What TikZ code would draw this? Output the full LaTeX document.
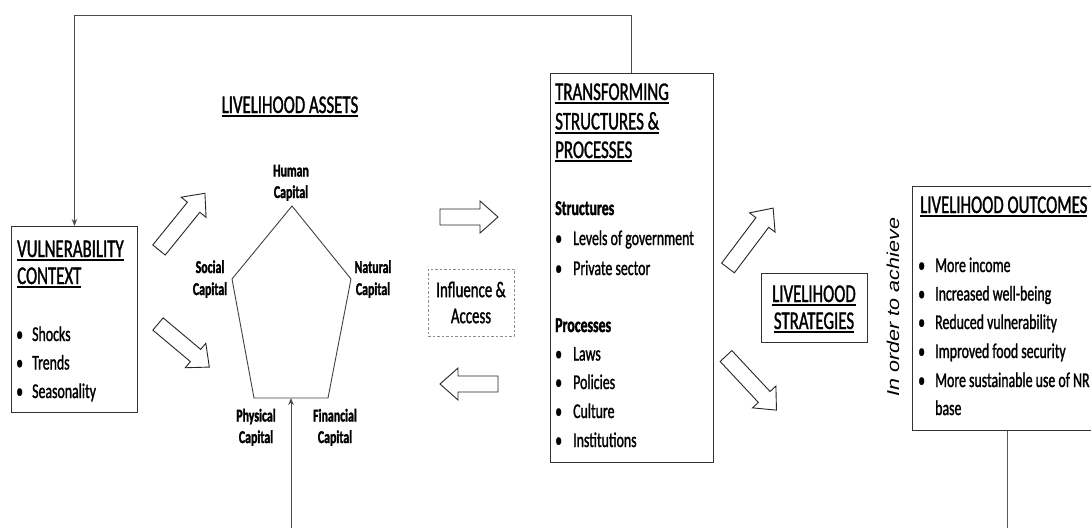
\documentclass[tikz,border=0pt]{standalone}
\usepackage{fontspec}
\setmainfont{Carlito}[FakeStretch=0.66, UprightFeatures={FakeBold=1.2}, BoldFeatures={FakeBold=1.6}]
\newfontfamily\vfont{Liberation Sans}
\usetikzlibrary{arrows.meta}
\newcommand\fbody{\fontsize{21}{29}\selectfont}
\newcommand\fhead{\fontsize{25.5}{29}\selectfont}
\newcommand\flab{\fontsize{18}{21.5}\selectfont\bfseries}
\newcommand\hul[1]{\setbox0=\hbox{#1}\rlap{\rule[-4pt]{\wd0}{1.8pt}}\box0}
\newcommand\itm[2][16pt]{\makebox[#1][l]{\textbullet}#2}
\newcommand\blockarrow[3]{\draw[barrow, shift={(#1)}, rotate=#2] (0,-8) -- (#3-18,-8) -- (#3-18,-16) -- (#3,0) -- (#3-18,16) -- (#3-18,8) -- (0,8) -- cycle;}
\begin{document}
\begin{tikzpicture}[x=1pt,y=-1pt,
  box/.style={draw=black!80, line width=0.9pt, rectangle, inner sep=0, anchor=north west},
  dbox/.style={draw=black!45, dash pattern=on 2.5pt off 2pt, line width=0.8pt, rectangle, inner sep=0, align=center, font=\fontsize{22.5}{26}\selectfont},
  txt/.style={anchor=base west, inner sep=0, font=\fbody},
  hd/.style={anchor=base west, inner sep=0, font=\fhead},
  hdc/.style={anchor=base, inner sep=0, font=\fhead},
  lab/.style={anchor=base, inner sep=0, font=\flab},
  conn/.style={draw=black!70, line width=1pt, -{Stealth[length=7pt,width=5.5pt]}},
  plain/.style={draw=black!65, line width=1pt},
  barrow/.style={draw=black!85, line width=0.9pt, fill=white, line join=miter},
  pent/.style={draw=black!75, line width=0.9pt}]
\path[use as bounding box] (0,0) rectangle (1091,528);
\clip (0,0) rectangle (1091,528);

% boxes
\node[box, minimum width=126, minimum height=186] (vc) at (11,226) {};
\node[box, minimum width=163, minimum height=389] (ts) at (550,73) {};
\node[box, minimum width=106, minimum height=69] (ls) at (761,273) {};
\node[box, minimum width=190, minimum height=244] (lo) at (912,186) {};
\node[dbox, minimum width=86, minimum height=67] (ia) at (471,302.5) {Influence \&\\Access};

% vulnerability context
\node[hd] (vc1) at (17,257) {\hul{VULNERABILITY}};
\node[hd] (vc2) at (17,284) {\hul{CONTEXT}};
\node[txt] (vc3) at (16,341) {\itm{Shocks}};
\node[txt] (vc4) at (16,369.5) {\itm{Trends}};
\node[txt] (vc5) at (16,398) {\itm{Seasonality}};

% livelihood assets
\node[hdc] (la) at (290,113) {\hul{LIVELIHOOD ASSETS}};
\coordinate (ptop) at (292,206);
\coordinate (pleft) at (232,279);
\coordinate (pright) at (351,279);
\coordinate (pbl) at (254,398);
\coordinate (pbr) at (328,398);
\coordinate (pb) at (291,398);
\draw[pent] (ptop) -- (pright) -- (pbr) -- (pbl) -- (pleft) -- cycle;
\node[lab] (hc1) at (291,176.5) {Human};
\node[lab] (hc2) at (291,198) {Capital};
\node[lab] (sc1) at (210,273) {Social};
\node[lab] (sc2) at (210,295) {Capital};
\node[lab] (nc1) at (373,273) {Natural};
\node[lab] (nc2) at (373,295) {Capital};
\node[lab] (pc1) at (256,421.5) {Physical};
\node[lab] (pc2) at (256,443) {Capital};
\node[lab] (fc1) at (335,421.5) {Financial};
\node[lab] (fc2) at (335,443) {Capital};

% transforming structures
\node[hd] (ts1) at (555,100) {\hul{TRANSFORMING}};
\node[hd] (ts2) at (555,129.5) {\hul{STRUCTURES \&}};
\node[hd] (ts3) at (555,158) {\hul{PROCESSES}};
\node[txt, font=\fbody\bfseries] (ts4) at (555,215) {Structures};
\node[txt] (ts5) at (555,245) {\itm[18pt]{Levels of government}};
\node[txt] (ts6) at (555,275) {\itm[18pt]{Private sector}};
\node[txt, font=\fbody\bfseries] (ts7) at (555,332) {Processes};
\node[txt] (ts8) at (555,360.5) {\itm[18pt]{Laws}};
\node[txt] (ts9) at (555,389) {\itm[18pt]{Policies}};
\node[txt] (ts10) at (555,418) {\itm[18pt]{Culture}};
\node[txt] (ts11) at (555,447) {\itm[18pt]{Institutions}};

% livelihood strategies
\node[hdc] (ls1) at (814,302) {\hul{LIVELIHOOD}};
\node[hdc] (ls2) at (814,329) {\hul{STRATEGIES}};

% in order to achieve
\node[rotate=90, inner sep=0] (io) at (893,307) {\scalebox{1}[0.8]{\vfont\itshape\fontsize{21.5}{24}\selectfont In order to achieve}};

% livelihood outcomes
\node[hd] (lo1) at (920,213) {\hul{LIVELIHOOD OUTCOMES}};
\node[txt] (lo2) at (918,272) {\itm[17pt]{More income}};
\node[txt] (lo3) at (918,300.5) {\itm[17pt]{Increased well-being}};
\node[txt] (lo4) at (918,329) {\itm[17pt]{Reduced vulnerability}};
\node[txt] (lo5) at (918,358) {\itm[17pt]{Improved food security}};
\node[txt] (lo6) at (918,387) {\itm[17pt]{More sustainable use of NR}};
\node[txt] (lo7) at (935,415) {base};

% block arrows
\blockarrow{159,250}{51}{73}
\blockarrow{158,324}{-40}{67}
\blockarrow{440,217}{0}{58}
\blockarrow{498,384}{180}{58}
\blockarrow{728,268}{53}{75}
\blockarrow{726,356}{-47}{74}

% connectors
\coordinate (topy) at (0,15);
\coordinate (boty) at (0,528);
\draw[conn] (ts.north) -- (ts.north |- topy) -- (vc.north |- topy) -- (vc.north);
\draw[conn] (pb |- boty) -- (pb);
\draw[plain] (lo.south) -- (lo.south |- boty);
\end{tikzpicture}
\end{document}
